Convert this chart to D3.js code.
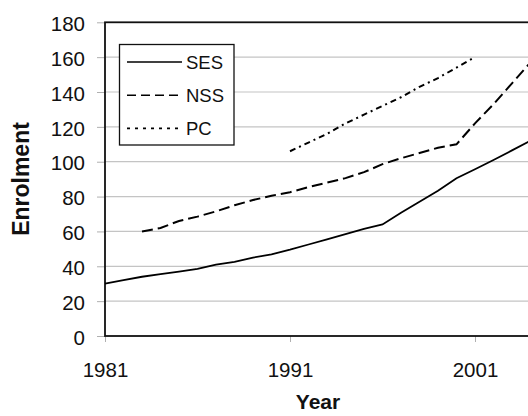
<!DOCTYPE html>
<html><head><meta charset="utf-8">
<script src="https://cdn.jsdelivr.net/npm/d3@7"></script>
<style>body{margin:0;background:#fff}svg{display:block}</style>
</head><body>
<script>
const sesYears = d3.range(1981, 2005);
const sesValues = [30,32,34,35.5,37,38.5,41,42.5,45,46.8,49.5,52.5,55.5,58.5,61.5,64,70.7,77,83.4,90.5,95.7,101,106.5,112];
const nssYears = d3.range(1983, 2005);
const nssValues = [60,62,66,68.5,71.5,75,78,80.5,82.5,85.4,88,90.6,94,98.6,102,105,108,110,122,133,145,157];
const pcYears = d3.range(1991, 2002);
const pcValues = [106,111,116,122,127,132,137,143,148,154,160];
const yTicks = [0,20,40,60,80,100,120,140,160,180];
const xTicks = [1981,1991,2001];
const seriesNames = ["SES","NSS","PC"];

const W = 528, H = 416;
const svg = d3.select("body").append("svg").attr("width", W).attr("height", H);
const x = d3.scaleLinear().domain([1981, 2004]).range([105, 530.5]);
const y = d3.scaleLinear().domain([0, 180]).range([336, 22.3]);
const font = "'Liberation Sans', Arial, Helvetica, sans-serif";

// gridlines
svg.append("g").selectAll("line").data(yTicks.filter(v => v > 0 && v < 180)).join("line")
  .attr("x1", x(1981)).attr("x2", W + 5).attr("y1", d => y(d)).attr("y2", d => y(d))
  .attr("stroke", "#c4c4c4").attr("stroke-width", 1.2);

// y axis
const yAxis = svg.append("g").attr("transform", `translate(${x(1981)},0)`)
  .call(d3.axisLeft(y).tickValues(yTicks).tickSize(8).tickPadding(12).tickFormat(d3.format("d")));
yAxis.select(".domain").remove();
yAxis.selectAll(".tick line").attr("stroke", "#b0b0b0");
yAxis.selectAll(".tick text").attr("font-family", font).attr("font-size", 20.5)
  .attr("fill", "#111").attr("dy", "0.4em");

// x axis
const xAxis = svg.append("g").attr("transform", `translate(0,${y(0)})`)
  .call(d3.axisBottom(x).tickValues(xTicks).tickSize(6).tickPadding(20).tickFormat(d3.format("d")));
xAxis.select(".domain").remove();
xAxis.selectAll(".tick line").attr("stroke", "#b0b0b0");
xAxis.selectAll(".tick text").attr("font-family", font).attr("font-size", 20.5)
  .attr("fill", "#111");

// plot frame
svg.append("rect").attr("x", x(1981)).attr("y", y(180)).attr("width", x(2004) - x(1981)).attr("height", y(0) - y(180))
  .attr("fill", "none").attr("stroke", "#111").attr("stroke-width", 1.8);

// lines
const line = d3.line().x(d => x(d[0])).y(d => y(d[1]));
svg.append("path").datum(d3.zip(sesYears, sesValues)).attr("d", line)
  .attr("fill", "none").attr("stroke", "#000").attr("stroke-width", 1.8);
svg.append("path").datum(d3.zip(nssYears, nssValues)).attr("d", line)
  .attr("fill", "none").attr("stroke", "#000").attr("stroke-width", 2).attr("stroke-dasharray", "11,5");
svg.append("path").datum(d3.zip(pcYears, pcValues)).attr("d", line)
  .attr("fill", "none").attr("stroke", "#000").attr("stroke-width", 2).attr("stroke-dasharray", "6,4,2,4");

// legend
const lg = svg.append("g");
lg.append("rect").attr("x", 119.5).attr("y", 44.5).attr("width", 114.5).attr("height", 100.5)
  .attr("fill", "#fff").attr("stroke", "#111").attr("stroke-width", 1.3);
const dashes = [null, "9,5", "3,5"];
seriesNames.forEach((name, i) => {
  const yy = 62 + i * 33.2;
  lg.append("line").attr("x1", 127).attr("x2", 182).attr("y1", yy).attr("y2", yy)
    .attr("stroke", "#000").attr("stroke-width", 1.6).attr("stroke-dasharray", dashes[i]);
  lg.append("text").attr("x", 186).attr("y", yy).attr("dy", "0.36em").text(name)
    .attr("font-family", font).attr("font-size", 18.5).attr("fill", "#111");
});

// axis titles
svg.append("text").attr("x", 318).attr("y", 409).attr("text-anchor", "middle")
  .attr("font-family", font).attr("font-weight", "bold").attr("font-size", 21).attr("fill", "#111").text("Year");
svg.append("text").attr("transform", "translate(28.5,179) rotate(-90)").attr("text-anchor", "middle")
  .attr("font-family", font).attr("font-weight", "bold").attr("font-size", 23).attr("fill", "#111").text("Enrolment");
</script>
</body></html>
